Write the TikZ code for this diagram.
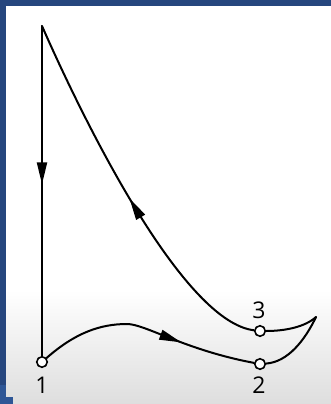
\documentclass[tikz,border=0pt]{standalone}
\usepackage{fontspec}
\setmainfont{Open Sans}
\usetikzlibrary{arrows.meta,decorations.markings}
\definecolor{frameblue}{RGB}{38,70,126}
\definecolor{frameblue2}{RGB}{46,86,150}
\definecolor{bottomgray}{RGB}{222,222,222}
\tikzset{
  curve/.style={line width=2pt, line cap=round},
  state/.style={circle, draw, line width=1.6pt, fill=white, minimum size=10.5pt, inner sep=0pt},
  lbl/.style={font=\fontsize{23}{23}\selectfont, inner sep=0pt},
  midarrow/.style={postaction={decorate}, decoration={markings,
     mark=at position #1 with {\arrow{Triangle[length=22pt,width=10pt]}}}}
}
\begin{document}
\begin{tikzpicture}[x=1pt,y=-1pt]
\useasboundingbox (0,0) rectangle (331,404);
% background
\fill[frameblue] (0,0) rectangle (331,404);
\fill[white] (6,6) rectangle (331,290);
\shade[top color=white, bottom color=bottomgray] (6,290) rectangle (331,404);
\fill[frameblue2] (0,385) rectangle (6,404);
\fill[frameblue2] (0,397) rectangle (13,404);
% points
\coordinate (top) at (42,26);
\coordinate (cusp) at (316,317);
\node[state] (p1) at (42,362) {};
\node[state] (p2) at (260,364) {};
\node[state] (p3) at (260,331) {};
\node[lbl] (l1) at (42,385) {1};
\node[lbl] (l2) at (259,385) {2};
\node[lbl] (l3) at (259,310) {3};
% paths
\draw[curve, midarrow=0.48] (top) -- (p1);
\draw[curve, midarrow=0.49] (p3) .. controls (185,322) and (90,135) .. (top);
\draw[curve, midarrow=0.66] (p1) .. controls (75,333) and (100,324) .. (127,324)
   .. controls (145,324) and (185,350) .. (p2);
\draw[curve] (p2) .. controls (288,362) and (305,340) .. (cusp);
\draw[curve] (p3) .. controls (285,331) and (305,327) .. (cusp);
\end{tikzpicture}
\end{document}
